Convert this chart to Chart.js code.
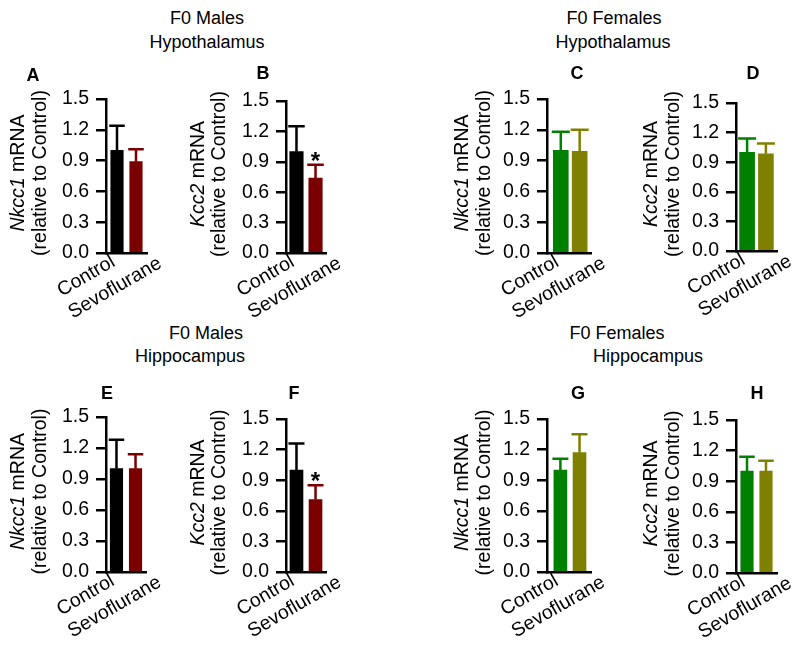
<!DOCTYPE html>
<html><head><meta charset="utf-8">
<script src="https://cdn.jsdelivr.net/npm/chart.js@4"></script>
<style>
html,body{margin:0;padding:0;background:#fff;width:800px;height:645px;overflow:hidden;font-family:'Liberation Sans',Arial,sans-serif}
.t{position:absolute;font-size:18px;color:#000;white-space:nowrap;transform:translate(-50%,-50%)}
.lt{position:absolute;font-size:18px;font-weight:bold;color:#000;transform:translate(-50%,-50%)}
canvas{position:absolute}
</style></head><body>
<div class="t" style="left:207px;top:18px">F0 Males</div>
<div class="t" style="left:207px;top:42px">Hypothalamus</div>
<div class="t" style="left:614px;top:18px">F0 Females</div>
<div class="t" style="left:613px;top:42px">Hypothalamus</div>
<div class="t" style="left:206px;top:333px">F0 Males</div>
<div class="t" style="left:190px;top:356px">Hippocampus</div>
<div class="t" style="left:617px;top:333px">F0 Females</div>
<div class="t" style="left:648px;top:356px">Hippocampus</div>
<script>
// ---- data ----
const categories = ['Control', 'Sevoflurane'];
const yTickValues = [0, 0.3, 0.6, 0.9, 1.2, 1.5];
const panelLetters = ['A', 'B', 'C', 'D', 'E', 'F', 'G', 'H'];
const genes = ['Nkcc1', 'Kcc2', 'Nkcc1', 'Kcc2', 'Nkcc1', 'Kcc2', 'Nkcc1', 'Kcc2'];
// means and SEM (upper error) per panel, [Control, Sevoflurane]
const meanA = [1.00, 0.89], semA = [0.24, 0.12];
const meanB = [1.00, 0.74], semB = [0.25, 0.13];
const meanC = [1.00, 0.99], semC = [0.18, 0.21];
const meanD = [1.00, 0.985], semD = [0.14, 0.105];
const meanE = [1.00, 1.00], semE = [0.28, 0.14];
const meanF = [1.00, 0.71], semF = [0.26, 0.14];
const meanG = [1.00, 1.17], semG = [0.11, 0.18];
const meanH = [1.00, 1.00], semH = [0.14, 0.10];
const sigNone = ['', ''];
const sigB = ['', '*'];
const sigF = ['', '*'];
const maleColors = ['#000000', '#7a0000'];
const femaleColors = ['#008000', '#808000'];

// ---- layout ----
const FONT = "'Liberation Sans', Arial, sans-serif";
const AXFS = 19.5;
const panels = [
  {mean: meanA, sem: semA, sig: sigNone, colors: maleColors, ax: 106, top: 99, bottom: 253, xmin: 0.42, xmax: 2.58, bw: 12.5, letter: [33, 75], tx: [19, 41]},
  {mean: meanB, sem: semB, sig: sigB, colors: maleColors, ax: 286, top: 101, bottom: 253, xmin: 0.45, xmax: 2.55, bw: 13.5, letter: [263, 73], tx: [199, 220]},
  {mean: meanC, sem: semC, sig: sigNone, colors: femaleColors, ax: 547, top: 99, bottom: 253, xmin: 0.27, xmax: 2.6, bw: 15, letter: [577, 73], tx: [463, 485]},
  {mean: meanD, sem: semD, sig: sigNone, colors: femaleColors, ax: 736, top: 103, bottom: 251, xmin: 0.41, xmax: 2.59, bw: 15, letter: [753, 73], tx: [652, 674]},
  {mean: meanE, sem: semE, sig: sigNone, colors: maleColors, ax: 106, top: 417, bottom: 572, xmin: 0.45, xmax: 2.55, bw: 12.5, letter: [107, 393], tx: [19, 41]},
  {mean: meanF, sem: semF, sig: sigF, colors: maleColors, ax: 286, top: 419, bottom: 572, xmin: 0.45, xmax: 2.55, bw: 13, letter: [294, 393], tx: [199, 220]},
  {mean: meanG, sem: semG, sig: sigNone, colors: femaleColors, ax: 547, top: 419, bottom: 572, xmin: 0.3, xmax: 2.6, bw: 13, letter: [578, 393], tx: [463, 485]},
  {mean: meanH, sem: semH, sig: sigNone, colors: femaleColors, ax: 736, top: 420, bottom: 573, xmin: 0.42, xmax: 2.58, bw: 12.5, letter: [757, 393], tx: [652, 674]}
];
const PX_PER_UNIT = 19, LEFT = 100, PADTOP = 25, PADRIGHT = 45, PADBOT = 80;

panels.forEach((p, k) => {
  const axLen = Math.round((p.xmax - p.xmin) * PX_PER_UNIT);
  const cw = LEFT + axLen + PADRIGHT;
  const plotH = p.bottom - p.top;
  const ch = plotH + PADTOP + PADBOT;
  const cl = p.ax - LEFT, ct = p.top - PADTOP;
  const cv = document.createElement('canvas');
  cv.width = cw; cv.height = ch;
  cv.style.left = cl + 'px'; cv.style.top = ct + 'px';
  cv.style.width = cw + 'px'; cv.style.height = ch + 'px';
  document.body.appendChild(cv);

  const lt = document.createElement('div');
  lt.className = 'lt'; lt.textContent = panelLetters[k];
  lt.style.left = p.letter[0] + 'px'; lt.style.top = p.letter[1] + 'px';
  document.body.appendChild(lt);

  const extras = {
    id: 'extras' + k,
    afterDatasetsDraw(chart) {
      const ctx = chart.ctx, ys = chart.scales.y, xs = chart.scales.x;
      const meta = chart.getDatasetMeta(0);
      ctx.save();
      meta.data.forEach((bar, i) => {
        const yTop = ys.getPixelForValue(p.mean[i] + p.sem[i]);
        const yMean = ys.getPixelForValue(p.mean[i]);
        const cap = p.bw + 3;
        ctx.strokeStyle = p.colors[i];
        ctx.lineWidth = 2.5;
        ctx.beginPath();
        ctx.moveTo(bar.x, yMean); ctx.lineTo(bar.x, yTop);
        ctx.moveTo(bar.x - cap / 2, yTop); ctx.lineTo(bar.x + cap / 2, yTop);
        ctx.stroke();
        if (p.sig[i]) {
          ctx.fillStyle = '#000';
          ctx.font = 'bold 24px ' + FONT;
          ctx.textAlign = 'center'; ctx.textBaseline = 'alphabetic';
          ctx.fillText(p.sig[i], bar.x, yTop + 4);
        }
      });
      // slanted category labels (two-line rotated block)
      const base = ys.getPixelForValue(0);
      const x0 = xs.getPixelForValue(1);
      ctx.fillStyle = '#000';
      ctx.font = AXFS + 'px ' + FONT;
      ctx.textAlign = 'left'; ctx.textBaseline = 'middle';
      categories.forEach((c, i) => {
        ctx.save();
        ctx.translate(x0 - 58 + i * 11, base + 39 + i * 22);
        ctx.rotate(-30 * Math.PI / 180);
        ctx.fillText(c, 0, 0);
        ctx.restore();
      });
      // y-axis title
      const cy = (chart.chartArea.top + chart.chartArea.bottom) / 2 - 3;
      const gene = genes[k], rest = ' mRNA';
      ctx.font = 'italic ' + AXFS + 'px ' + FONT;
      const wg = ctx.measureText(gene).width;
      ctx.font = AXFS + 'px ' + FONT;
      const wr = ctx.measureText(rest).width;
      ctx.save();
      ctx.translate(p.tx[0] - cl, cy);
      ctx.rotate(-Math.PI / 2);
      ctx.textBaseline = 'middle'; ctx.textAlign = 'left';
      ctx.font = 'italic ' + AXFS + 'px ' + FONT;
      ctx.fillText(gene, -(wg + wr) / 2, 0);
      ctx.font = AXFS + 'px ' + FONT;
      ctx.fillText(rest, -(wg + wr) / 2 + wg, 0);
      ctx.restore();
      ctx.save();
      ctx.translate(p.tx[1] - cl, cy);
      ctx.rotate(-Math.PI / 2);
      ctx.textBaseline = 'middle'; ctx.textAlign = 'center';
      ctx.font = AXFS + 'px ' + FONT;
      ctx.fillText('(relative to Control)', 0, 0);
      ctx.restore();
      ctx.restore();
    }
  };

  new Chart(cv, {
    type: 'bar',
    data: {
      datasets: [{
        data: categories.map((c, i) => ({x: i + 1, y: p.mean[i]})),
        backgroundColor: p.colors,
        barThickness: p.bw,
        borderWidth: 0
      }]
    },
    options: {
      responsive: false, animation: false, devicePixelRatio: 1,
      layout: {padding: {top: PADTOP, left: 0, right: PADRIGHT, bottom: 0}},
      plugins: {legend: {display: false}, tooltip: {enabled: false}},
      scales: {
        x: {
          type: 'linear', min: p.xmin, max: p.xmax, offset: false,
          grid: {display: false, drawTicks: false},
          border: {display: true, color: '#000', width: 2.5},
          ticks: {display: false},
          afterFit: s => { s.height = ch - PADTOP - plotH; }
        },
        y: {
          min: 0, max: 1.5,
          afterBuildTicks: s => { s.ticks = yTickValues.map(v => ({value: v})); },
          ticks: {callback: v => Number(v).toFixed(1), color: '#000', font: {size: AXFS, family: FONT}, padding: 7},
          grid: {drawOnChartArea: false, drawTicks: true, tickLength: 10, color: '#000', lineWidth: 2.5},
          border: {display: true, color: '#000', width: 2.5},
          afterFit: s => { s.width = LEFT; }
        }
      }
    },
    plugins: [extras]
  });
});
</script>
</body></html>
